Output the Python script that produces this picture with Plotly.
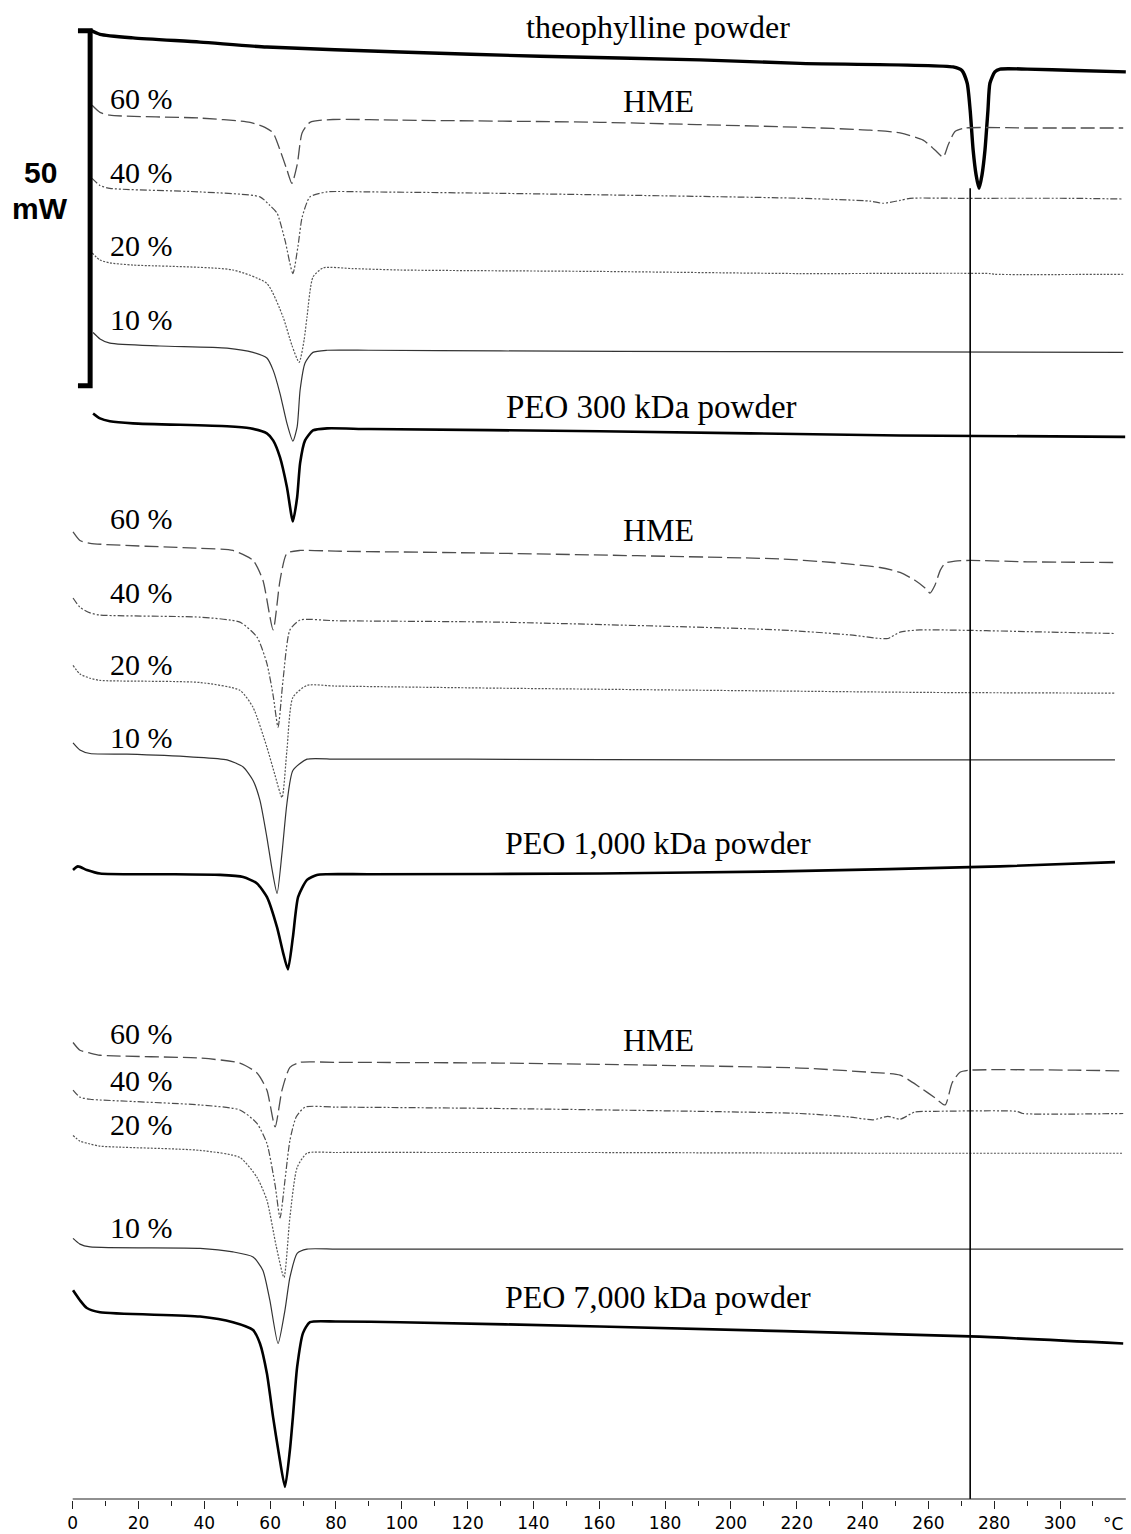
import plotly.graph_objects as go

# ---------------- data: temperature (°C) and stacked heat flow (mW) ----------------
theo_T  = [5.3, 8.3, 18.3, 38.7, 59.0, 99.5, 142.0, 190.6, 221.0, 267.5, 270.2, 271.8, 272.7, 273.6, 274.5, 275.4, 276.3, 277.2, 278.1, 278.7, 280.2, 281.8, 290.0, 305.0, 320.0]
theo_mW = [206.9, 206.3, 205.8, 205.2, 204.5, 203.8, 203.2, 202.7, 202.2, 201.7, 201.2, 199.4, 195.6, 190.0, 186.5, 184.6, 186.5, 190.0, 195.6, 199.4, 201.0, 201.4, 201.4, 201.2, 201.0]

# PEO 300 kDa group
p300_60_T  = [5.9, 8.3, 11.3, 38.7, 53.9, 58.4, 60.9, 63.0, 65.1, 66.6, 68.2, 69.7, 72.1, 79.1, 99.5, 160.2, 221.0, 242.3, 251.4, 258.4, 262.0, 264.5, 266.0, 268.1, 271.2, 290.0, 319.2]
p300_60_mW = [196.3, 195.3, 194.9, 194.5, 193.9, 193.2, 192.4, 190.0, 187.2, 185.3, 187.9, 192.4, 193.9, 194.3, 194.2, 193.9, 193.2, 192.8, 192.4, 191.4, 190.0, 189.0, 190.7, 192.6, 193.1, 193.1, 193.1]
p300_40_T  = [5.9, 8.3, 11.3, 38.7, 56.9, 59.9, 62.1, 64.5, 66.9, 68.5, 69.7, 72.1, 77.3, 90.0, 129.8, 221.0, 242.3, 246.2, 251.4, 254.4, 270.0, 303.0, 319.2]
p300_40_mW = [186.0, 185.0, 184.6, 184.1, 183.4, 182.2, 181.1, 177.3, 172.6, 176.6, 180.5, 183.4, 184.1, 184.1, 183.9, 183.2, 182.8, 182.5, 182.9, 183.2, 183.2, 183.2, 183.1]
p300_20_T  = [5.9, 8.3, 11.3, 18.3, 48.7, 59.0, 63.9, 66.6, 68.8, 70.3, 71.2, 73.0, 76.1, 85.0, 99.5, 160.0, 221.0, 278.7, 280.2, 319.2]
p300_20_mW = [175.5, 174.5, 174.1, 173.8, 173.1, 171.2, 166.5, 162.5, 160.1, 163.2, 166.5, 172.1, 173.4, 173.3, 173.1, 172.9, 172.6, 172.6, 172.5, 172.5]
p300_10_T  = [6.2, 8.3, 11.3, 26.5, 46.9, 54.8, 59.0, 60.9, 63.0, 65.1, 66.9, 68.2, 69.1, 70.6, 73.0, 77.3, 90.0, 130.0, 200.0, 319.2]
p300_10_mW = [164.3, 163.4, 162.8, 162.4, 162.1, 161.5, 160.7, 159.0, 155.7, 151.5, 149.0, 151.0, 156.2, 160.0, 161.5, 161.8, 161.8, 161.7, 161.6, 161.5]
p300_pw_T  = [6.2, 8.3, 11.3, 18.3, 46.9, 53.9, 59.0, 60.9, 63.0, 65.1, 66.9, 68.2, 69.1, 70.6, 73.0, 77.3, 90.0, 160.2, 251.4, 319.8]
p300_pw_mW = [152.9, 152.2, 151.8, 151.5, 151.1, 150.8, 150.1, 149.1, 146.7, 142.5, 137.7, 141.1, 145.9, 149.1, 150.5, 150.8, 150.7, 150.4, 149.8, 149.6]

# PEO 1,000 kDa group
p1000_60_T  = [0.1, 2.2, 5.3, 38.7, 48.7, 54.8, 57.8, 60.9, 63.0, 65.1, 69.1, 80.0, 129.8, 214.9, 231.0, 245.3, 251.4, 255.9, 259.0, 260.5, 262.0, 263.6, 265.1, 268.1, 272.7, 290.0, 316.7]
p1000_60_mW = [136.2, 135.0, 134.6, 133.9, 133.6, 132.2, 129.4, 122.4, 129.4, 133.2, 133.6, 133.5, 133.2, 132.4, 131.9, 131.2, 130.5, 129.4, 128.3, 127.6, 128.7, 130.8, 131.8, 132.1, 132.2, 132.0, 131.9]
p1000_40_T  = [0.1, 2.2, 5.3, 8.3, 38.7, 50.8, 56.0, 59.0, 60.9, 62.4, 63.9, 66.0, 69.1, 80.0, 129.8, 214.9, 236.2, 245.3, 247.7, 251.4, 257.4, 296.9, 316.7]
p1000_40_mW = [126.9, 125.6, 124.8, 124.5, 124.2, 123.5, 121.4, 117.7, 113.2, 108.7, 115.3, 122.4, 123.8, 123.7, 123.5, 122.4, 121.7, 121.2, 121.2, 122.1, 122.4, 122.1, 121.9]
p1000_20_T  = [0.1, 2.2, 5.3, 8.3, 38.7, 50.8, 54.8, 59.0, 61.5, 63.6, 65.1, 66.9, 71.2, 80.0, 129.8, 214.9, 260.5, 316.7]
p1000_20_mW = [117.4, 116.2, 115.6, 115.3, 115.0, 113.9, 111.5, 105.9, 101.9, 98.8, 105.5, 112.9, 114.6, 114.5, 114.2, 113.8, 113.6, 113.5]
p1000_10_T  = [0.1, 2.2, 5.3, 16.5, 36.6, 46.9, 51.8, 54.8, 56.9, 59.0, 60.6, 62.1, 63.6, 65.1, 66.9, 71.2, 80.0, 120.0, 200.0, 316.7]
p1000_10_mW = [106.5, 105.5, 105.0, 104.9, 104.5, 104.1, 103.1, 101.2, 98.4, 93.2, 88.6, 85.3, 91.0, 98.0, 102.6, 104.2, 104.2, 104.2, 104.1, 104.1]
p1000_pw_T  = [0.1, 1.6, 4.3, 8.3, 26.5, 44.8, 51.8, 56.0, 59.0, 62.1, 63.9, 65.4, 66.9, 68.5, 71.2, 74.2, 77.3, 90.0, 160.2, 214.9, 281.8, 316.7]
p1000_pw_mW = [88.6, 89.1, 88.6, 88.1, 88.0, 87.9, 87.6, 86.7, 84.8, 80.5, 77.0, 74.6, 79.1, 84.8, 87.2, 87.9, 88.0, 88.0, 88.1, 88.4, 89.1, 89.7]

# PEO 7,000 kDa group
p7000_60_T  = [0.1, 2.2, 5.3, 8.3, 38.7, 50.8, 56.0, 59.0, 61.5, 63.6, 66.0, 69.1, 80.0, 129.8, 221.0, 242.3, 251.4, 257.4, 262.0, 265.1, 267.2, 269.6, 272.7, 304.6, 319.2]
p7000_60_mW = [64.3, 63.2, 62.8, 62.5, 62.1, 61.4, 60.0, 57.6, 52.4, 57.6, 60.8, 61.5, 61.5, 61.4, 60.7, 60.1, 59.7, 58.0, 56.5, 55.5, 58.6, 60.1, 60.4, 60.4, 60.3]
p7000_40_T  = [0.1, 2.2, 5.3, 8.3, 38.7, 50.8, 56.0, 59.0, 61.5, 63.0, 64.5, 66.0, 67.9, 70.6, 80.0, 129.8, 221.0, 236.2, 243.2, 247.7, 251.4, 255.9, 262.0, 286.9, 288.7, 319.2]
p7000_40_mW = [57.6, 56.6, 56.3, 56.2, 55.5, 54.8, 52.9, 50.1, 44.2, 39.6, 44.9, 50.5, 53.8, 55.2, 55.2, 55.0, 54.3, 53.8, 53.4, 53.9, 53.5, 54.5, 54.6, 54.6, 54.3, 54.3]
p7000_20_T  = [0.1, 2.2, 5.3, 8.3, 38.7, 50.8, 56.0, 59.0, 61.8, 64.2, 66.0, 68.2, 71.2, 80.0, 120.0, 160.2, 240.0, 319.2]
p7000_20_mW = [51.2, 50.4, 50.0, 49.7, 49.1, 48.1, 45.3, 42.1, 35.7, 31.2, 39.7, 46.7, 48.7, 48.8, 48.8, 48.8, 48.7, 48.7]
p7000_10_T  = [0.1, 2.2, 5.3, 38.7, 48.7, 54.8, 57.8, 59.9, 62.4, 64.5, 66.0, 68.2, 71.2, 80.0, 120.0, 200.0, 319.2]
p7000_10_mW = [36.7, 35.9, 35.5, 35.3, 34.8, 34.1, 32.2, 28.0, 21.9, 26.6, 31.2, 34.6, 35.2, 35.2, 35.2, 35.2, 35.2]
p7000_pw_T  = [0.1, 2.2, 4.3, 8.3, 38.7, 48.7, 54.8, 56.9, 59.0, 60.9, 62.7, 64.5, 66.0, 66.9, 68.2, 70.0, 72.1, 80.0, 99.5, 160.2, 272.7, 319.2]
p7000_pw_mW = [29.4, 28.0, 26.9, 26.3, 25.7, 24.9, 23.8, 21.9, 17.7, 11.5, 6.2, 1.7, 6.9, 11.5, 18.6, 23.4, 24.9, 25.0, 24.9, 24.3, 22.9, 21.9]

x_ticks = [0, 20, 40, 60, 80, 100, 120, 140, 160, 180, 200, 220, 240, 260, 280, 300]
x_minor = [10, 30, 50, 70, 90, 110, 130, 150, 170, 190, 210, 230, 250, 270, 290, 310]
x_axis_end = 320
theo_melt_T = 272.7
scale_bar_mW = 50
scale_bar_top = 206.8

# ---------------- styles ----------------
POWDER = dict(color="black", width=2.6)
S60 = dict(color="#4d4d4d", width=1.3, dash="14px,5px")
S40 = dict(color="#4d4d4d", width=1.2, dash="7px,2px,2px,2px,2px,2px")
S20 = dict(color="#555555", width=1.2, dash="2px,1.5px")
S10 = dict(color="#333333", width=1.2)

curves = [
    (theo_T, theo_mW, dict(color="black", width=3.4)),
    (p300_60_T, p300_60_mW, S60), (p300_40_T, p300_40_mW, S40),
    (p300_20_T, p300_20_mW, S20), (p300_10_T, p300_10_mW, S10),
    (p300_pw_T, p300_pw_mW, POWDER),
    (p1000_60_T, p1000_60_mW, S60), (p1000_40_T, p1000_40_mW, S40),
    (p1000_20_T, p1000_20_mW, S20), (p1000_10_T, p1000_10_mW, S10),
    (p1000_pw_T, p1000_pw_mW, POWDER),
    (p7000_60_T, p7000_60_mW, S60), (p7000_40_T, p7000_40_mW, S40),
    (p7000_20_T, p7000_20_mW, S20), (p7000_10_T, p7000_10_mW, S10),
    (p7000_pw_T, p7000_pw_mW, POWDER),
]

fig = go.Figure()
for T, mW, ln in curves:
    fig.add_trace(go.Scatter(x=T, y=mW, mode="lines", line=dict(shape="spline", smoothing=0.6, **ln),
                             hoverinfo="skip", showlegend=False))

# scale bar  "["
fig.add_trace(go.Scatter(x=[1.6, 5.3, 5.3, 1.6],
                         y=[scale_bar_top, scale_bar_top, scale_bar_top - scale_bar_mW, scale_bar_top - scale_bar_mW],
                         mode="lines", line=dict(color="black", width=5), hoverinfo="skip", showlegend=False))

# vertical reference line at theophylline melting
fig.add_shape(type="line", xref="x", yref="y", x0=theo_melt_T, x1=theo_melt_T, y0=0, y1=184.6,
              line=dict(color="black", width=1.6))
# x axis line
fig.add_shape(type="line", xref="x", yref="y", x0=0, x1=x_axis_end, y0=0, y1=0,
              line=dict(color="#222222", width=1.2))

serif = "Liberation Serif, Times New Roman, serif"
ann = []
def txt(x, y, s, anchor="center", size=32, family=serif, bold=False):
    ann.append(dict(x=x, y=y, xref="x", yref="y", text=("<b>%s</b>" % s) if bold else s, showarrow=False,
                    xanchor=anchor, yanchor="middle", font=dict(family=family, size=size, color="black")))

txt(177.9, 207.3, "theophylline powder")
txt(177.9, 196.9, "HME")
txt(176.0, 153.8, "PEO 300 kDa powder", size=33)
txt(177.9, 136.5, "HME")
txt(177.9, 92.4, "PEO 1,000 kDa powder")
txt(177.9, 64.6, "HME")
txt(177.9, 28.4, "PEO 7,000 kDa powder")
for y, s in [(197.2, "60 %"), (186.9, "40 %"), (176.5, "20 %"), (166.2, "10 %"),
             (138.1, "60 %"), (127.7, "40 %"), (117.5, "20 %"), (107.2, "10 %"),
             (65.6, "60 %"), (59.0, "40 %"), (52.7, "20 %"), (38.3, "10 %")]:
    txt(10.7, y, s, anchor="left", size=30)
txt(-9.9, 186.9, "50", size=30, family="Liberation Sans, Arial, sans-serif", bold=True)
txt(-9.9, 181.8, "mW", size=30, family="Liberation Sans, Arial, sans-serif", bold=True)
ann.append(dict(x=316.1, y=-0.0157, xref="x", yref="paper", text="°C", showarrow=False,
                xanchor="center", yanchor="middle", font=dict(family="DejaVu Sans", size=17, color="black")))

fig.update_layout(
    width=1131, height=1534, margin=dict(l=0, r=0, t=0, b=34, autoexpand=False),
    paper_bgcolor="white", plot_bgcolor="white", annotations=ann,
    xaxis=dict(range=[-22.09, 321.57], showgrid=False, zeroline=False, showline=False, automargin=False,
               tickmode="array", tickvals=x_ticks, ticktext=[str(v) for v in x_ticks],
               ticks="outside", ticklen=8, tickwidth=1, tickcolor="#222222", ticklabelstandoff=0,
               tickfont=dict(family="DejaVu Sans", size=17, color="black"),
               minor=dict(tickmode="array", tickvals=x_minor, ticks="outside", ticklen=5,
                          tickwidth=1, tickcolor="#222222", showgrid=False)),
    yaxis=dict(range=[-0.141, 211.13], visible=False, showgrid=False, zeroline=False, automargin=False),
)
# remove the page's default 8 px body margin so the figure fills the window exactly
fig.write_html("out.html", config={"displayModeBar": False},
               post_script="document.body.style.margin='0px';")
